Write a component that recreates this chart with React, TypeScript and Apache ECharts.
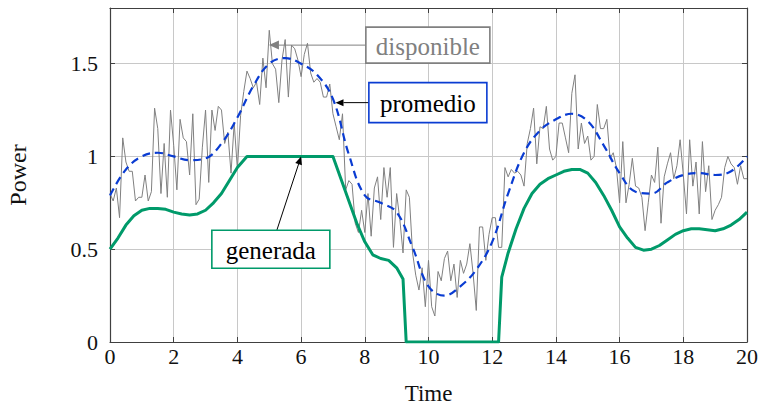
import React, { useEffect, useRef } from 'react';
import * as echarts from 'echarts';

// Time step of the "disponible" signal
const disponibleStep = 0.1;
// disponible (gray noisy power), one value each 0.1 time units from 0 to 20
const disponible = [
  0.80, 0.76, 0.83, 0.67, 1.10, 0.97, 0.92, 0.92, 0.76, 0.78,
  0.78, 0.90, 0.76, 0.81, 1.26, 1.15, 0.80, 1.07, 0.78, 1.25,
  1.06, 0.82, 1.20, 1.10, 1.08, 0.90, 1.23, 0.74, 0.77, 1.05,
  1.25, 0.86, 1.25, 1.14, 1.27, 1.25, 1.07, 1.13, 0.91, 1.18,
  0.93, 1.22, 1.35, 1.46, 1.42, 1.37, 1.40, 1.28, 1.53, 1.37,
  1.68, 1.50, 1.47, 1.29, 1.52, 1.63, 1.32, 1.60, 1.58, 1.52,
  1.43, 1.55, 1.61, 1.45, 1.40, 1.42, 1.40, 1.32, 1.32, 1.39,
  1.23, 1.16, 1.09, 1.23, 0.82, 0.87, 0.85, 0.64, 0.59, 0.71,
  0.59, 0.80, 0.57, 0.83, 0.89, 0.66, 0.94, 0.78, 0.94, 0.51,
  0.80, 0.66, 0.48, 0.82, 0.78, 0.48, 0.36, 0.28, 0.40, 0.19,
  0.44, 0.19, 0.14, 0.38, 0.33, 0.45, 0.49, 0.33, 0.42, 0.24,
  0.44, 0.37, 0.42, 0.53, 0.37, 0.17, 0.62, 0.62, 0.44, 0.58,
  0.67, 0.67, 0.51, 0.51, 0.94, 0.89, 0.93, 0.91, 0.92, 0.90,
  0.84, 1.07, 1.15, 1.26, 0.96, 1.16, 1.15, 1.27, 1.04, 0.98,
  1.00, 1.18, 1.18, 1.10, 1.02, 1.34, 1.44, 1.04, 1.18, 1.07,
  1.11, 0.98, 1.00, 1.28, 1.15, 1.15, 1.20, 0.99, 1.02, 0.94,
  0.75, 1.08, 0.75, 0.85, 0.99, 0.84, 0.83, 0.78, 0.60, 0.75,
  0.90, 0.86, 1.05, 0.64, 0.89, 0.96, 1.02, 0.88, 0.95, 1.09,
  0.90, 0.69, 1.09, 0.84, 0.97, 0.69, 1.08, 0.81, 0.95, 0.66,
  0.71, 0.74, 0.78, 0.94, 1.00, 0.96, 0.94, 0.85, 0.95, 0.88,
  0.88,
];

// promedio (moving average)
const promedioT = [
  0, 0.5, 1, 1.5, 2, 2.5, 3, 3.5, 4, 4.5, 5, 5.5, 6, 6.5, 7, 7.5, 8, 8.5, 9, 9.5,
  10, 10.5, 11, 11.5, 12, 12.5, 13, 13.5, 14, 14.5, 15, 15.5, 16, 16.5, 17, 17.5,
  18, 18.5, 19, 19.5, 20,
];
const promedio = [
  0.79, 0.93, 1.00, 1.02, 1.00, 0.98, 0.99, 1.07, 1.21, 1.38, 1.50, 1.53, 1.50, 1.44,
  1.31, 1.01, 0.79, 0.75, 0.70, 0.51, 0.30, 0.25, 0.30, 0.39, 0.54, 0.80, 1.02, 1.14,
  1.20, 1.23, 1.19, 1.06, 0.91, 0.81, 0.80, 0.86, 0.90, 0.91, 0.90, 0.92, 1.00,
];

// generada (generated power)
const generadaT = [
  0, 0.25, 0.5, 0.75, 1, 1.25, 1.5, 1.75, 2, 2.25, 2.5, 2.75, 3, 3.25, 3.5, 3.75, 4, 4.3,
  7.0, 7.25, 7.5, 7.75, 8, 8.25, 8.5, 8.75, 9, 9.2, 9.3,
  12.2, 12.3, 12.5, 12.75, 13, 13.25, 13.5, 13.75, 14, 14.25, 14.5, 14.75, 15, 15.25,
  15.5, 15.75, 16, 16.25, 16.5, 16.75, 17, 17.25, 17.5, 17.75, 18, 18.25, 18.5, 18.75,
  19, 19.25, 19.5, 19.75, 20,
];
const generada = [
  0.50, 0.56, 0.63, 0.68, 0.71, 0.72, 0.72, 0.715, 0.70, 0.69, 0.685, 0.69, 0.71, 0.75,
  0.80, 0.87, 0.94, 1.0,
  1.0, 0.88, 0.76, 0.64, 0.54, 0.47, 0.45, 0.44, 0.40, 0.34, 0,
  0, 0.35, 0.48, 0.61, 0.72, 0.80, 0.85, 0.88, 0.90, 0.92, 0.93, 0.93, 0.91, 0.86,
  0.79, 0.71, 0.62, 0.56, 0.51, 0.495, 0.50, 0.52, 0.55, 0.58, 0.60, 0.61, 0.61, 0.605,
  0.60, 0.61, 0.63, 0.66, 0.70,
];

const xMin = 0;
const xMax = 20;
const xInterval = 2;
const yMin = 0;
const yMax = 1.8;
const yInterval = 0.5;

const FONT = 'Liberation Serif';
const GRAY = '#808080';
const BLUE = '#0a3cd2';
const GREEN = '#009a6a';
const FRAME = '#404040';

export default function App() {
  const ref = useRef<HTMLDivElement>(null);

  useEffect(() => {
    document.body.style.margin = '0';
    document.body.style.overflow = 'hidden';
    const chart = echarts.init(ref.current!, null, { renderer: 'svg' });

    const tickStyle = { show: true, inside: true, length: 5, lineStyle: { color: FRAME, width: 1 } };
    const lineStyle = { show: true, lineStyle: { color: FRAME, width: 1.2 } };

    chart.setOption({
      animation: false,
      backgroundColor: '#ffffff',
      grid: {
        left: 110, top: 8, width: 637, height: 334,
        containLabel: false, outerBoundsMode: 'none',
      },
      xAxis: [
        {
          type: 'value', min: xMin, max: xMax, interval: xInterval, position: 'bottom',
          axisLine: { ...lineStyle, onZero: false },
          axisTick: tickStyle,
          splitLine: { show: true, lineStyle: { color: '#c8c8c8', width: 1 } },
          axisLabel: { color: '#111', fontFamily: FONT, fontSize: 22, margin: 3 },
          name: 'Time', nameLocation: 'middle', nameGap: 40,
          nameTextStyle: { color: '#111', fontFamily: FONT, fontSize: 23 },
        },
        {
          type: 'value', min: xMin, max: xMax, interval: xInterval, position: 'top',
          axisLine: { ...lineStyle, onZero: false },
          axisTick: tickStyle,
          splitLine: { show: false },
          axisLabel: { show: false },
        },
      ],
      yAxis: [
        {
          type: 'value', min: yMin, max: yMax, interval: yInterval, position: 'left',
          axisLine: { ...lineStyle, onZero: false },
          axisTick: tickStyle,
          splitLine: { show: true, lineStyle: { color: '#c8c8c8', width: 1 } },
          axisLabel: {
            color: '#111', fontFamily: FONT, fontSize: 22, margin: 12, showMaxLabel: false,
            formatter: (v: number) => String(v),
          },
          name: 'Power', nameLocation: 'middle', nameGap: 80, nameRotate: 90,
          nameTextStyle: { color: '#111', fontFamily: FONT, fontSize: 24 },
        },
        {
          type: 'value', min: yMin, max: yMax, interval: yInterval, position: 'right',
          axisLine: { ...lineStyle, onZero: false },
          axisTick: tickStyle,
          splitLine: { show: false },
          axisLabel: { show: false },
        },
      ],
      series: [
        {
          name: 'disponible', type: 'line', xAxisIndex: 0, yAxisIndex: 0,
          data: disponible.map((v, i) => [i * disponibleStep, v]),
          showSymbol: false, symbol: 'none',
          lineStyle: { color: GRAY, width: 1 }, z: 2,
        },
        {
          name: 'promedio', type: 'line', xAxisIndex: 0, yAxisIndex: 0,
          data: promedioT.map((t, i) => [t, promedio[i]]),
          showSymbol: false, symbol: 'none', smooth: 0.4,
          lineStyle: { color: BLUE, width: 2.2, type: [8, 5] }, z: 3,
        },
        {
          name: 'generada', type: 'line', xAxisIndex: 0, yAxisIndex: 0,
          data: generadaT.map((t, i) => [t, generada[i]]),
          showSymbol: false, symbol: 'none', smooth: false,
          lineStyle: { color: GREEN, width: 3, join: 'round' }, z: 4,
        },
      ],
    });

    const px = (x: number, y: number) => chart.convertToPixel({ seriesIndex: 0 }, [x, y]) as number[];

    const arrow = (from: number[], to: number[], color: string, len: number, half: number) => {
      const dx = to[0] - from[0];
      const dy = to[1] - from[1];
      const d = Math.hypot(dx, dy) || 1;
      const ux = dx / d;
      const uy = dy / d;
      const bx = to[0] - ux * len;
      const by = to[1] - uy * len;
      return [
        { type: 'line', z: 50, shape: { x1: from[0], y1: from[1], x2: bx, y2: by }, style: { stroke: color, lineWidth: 1 } },
        {
          type: 'polygon', z: 50,
          shape: { points: [[to[0], to[1]], [bx - uy * half, by + ux * half], [bx + uy * half, by - ux * half]] },
          style: { fill: color },
        },
      ];
    };

    const box = (c: number[], w: number, h: number, stroke: string, text: string, color: string) => [
      {
        type: 'rect', z: 50,
        shape: { x: c[0] - w / 2, y: c[1] - h / 2, width: w, height: h },
        style: { fill: '#ffffff', stroke, lineWidth: 1.6 },
      },
      {
        type: 'text', z: 51, x: c[0], y: c[1] + 1,
        style: {
          text, fill: color, fontFamily: FONT, fontSize: 25, align: 'center', verticalAlign: 'middle',
        },
      },
    ];

    const dC = px(9.98, 1.6);
    const pC = px(9.98, 1.29);
    const gC = px(5.05, 0.5);
    const dW = 124, pW = 118, gW = 118;

    const graphic = [
      ...arrow([dC[0] - dW / 2, dC[1]], px(4.99, 1.6), GRAY, 10, 4.5),
      ...arrow([pC[0] - pW / 2, pC[1]], px(7.08, 1.29), '#000', 8, 3.5),
      ...arrow([gC[0] + 6, gC[1] - 19], px(6.0, 1.0), '#000', 8, 3.5),
      ...box(dC, dW, 36, GRAY, 'disponible', GRAY),
      ...box(pC, pW, 40, BLUE, 'promedio', '#000'),
      ...box(gC, gW, 38, GREEN, 'generada', '#000'),
    ];

    chart.setOption({ graphic });

    return () => chart.dispose();
  }, []);

  return <div ref={ref} style={{ width: 761, height: 407, background: '#fff' }} />;
}
